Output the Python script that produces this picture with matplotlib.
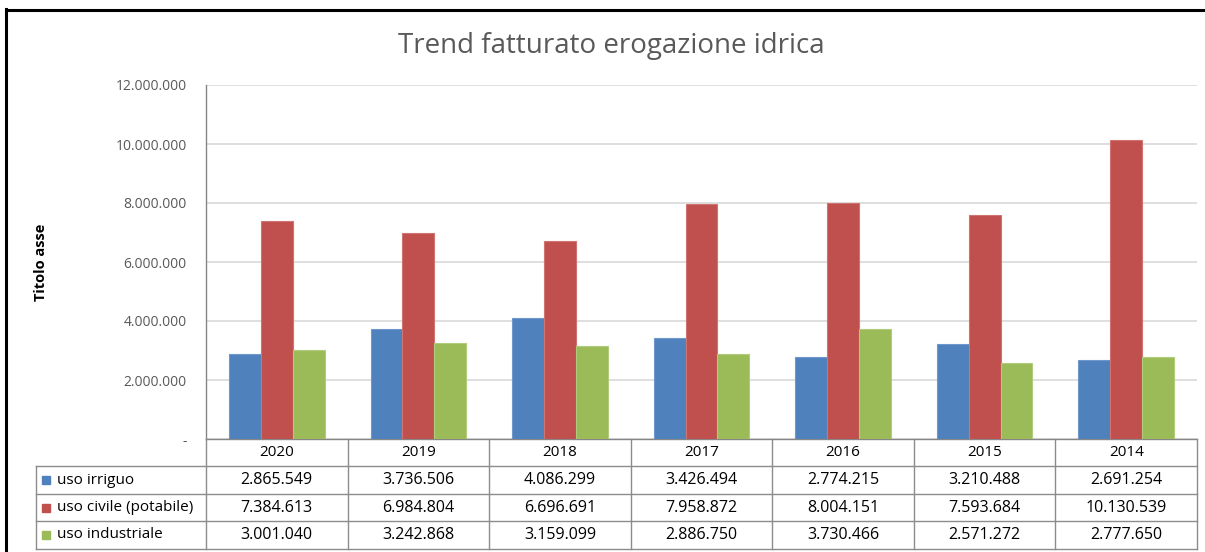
import numpy as np
import matplotlib
matplotlib.use("Agg")
import matplotlib.pyplot as plt
from matplotlib.transforms import blended_transform_factory
from matplotlib.lines import Line2D
from matplotlib.patches import Rectangle

plt.rcParams['font.family'] = ['Open Sans', 'DejaVu Sans']

years = ["2020", "2019", "2018", "2017", "2016", "2015", "2014"]
series_names = ["uso irriguo", "uso civile (potabile)", "uso industriale"]
irriguo = [2865549, 3736506, 4086299, 3426494, 2774215, 3210488, 2691254]
civile = [7384613, 6984804, 6696691, 7958872, 8004151, 7593684, 10130539]
industriale = [3001040, 3242868, 3159099, 2886750, 3730466, 2571272, 2777650]
colors = ["#4F81BD", "#C0504D", "#9BBB59"]
edges = ["#6f97cb", "#cf7471", "#b0cb7b"]
yticks = [0, 2000000, 4000000, 6000000, 8000000, 10000000, 12000000]

W, H = 1205, 552

def fx(x):
    return x / W

def fy(y):
    return 1 - y / H

def fmt(v):
    if v == 0:
        return "-"
    return f"{v:,}".replace(",", ".")

fig = plt.figure(figsize=(W / 100, H / 100), dpi=100)
ax = fig.add_axes([fx(206), fy(439), fx(1197 - 206), (439 - 85) / H])

x = np.arange(len(years))
bw = 0.225
data = [irriguo, civile, industriale]
for k, vals in enumerate(data):
    ax.bar(x + (k - 1) * bw, vals, bw, color=colors[k], edgecolor=edges[k],
           linewidth=0.8, zorder=3)

ax.set_xlim(-0.5, len(years) - 0.5)
ax.set_ylim(0, 12000000)
ax.set_yticks(yticks)
ax.set_yticklabels([fmt(v) for v in yticks])
ax.set_xticks([])
ax.tick_params(axis='y', length=0, pad=14, labelsize=10, labelcolor="#595959")
ax.grid(axis='y', color="#d9d9d9", linewidth=1.2, zorder=0)
for s in ["top", "right"]:
    ax.spines[s].set_visible(False)
ax.spines["left"].set_color("#868686")
ax.spines["bottom"].set_color("#868686")
ax.spines["left"].set_linewidth(1.0)
ax.spines["bottom"].set_linewidth(1.0)

ax.set_ylabel("Titolo asse", fontsize=10.5, fontweight="bold")
ax.yaxis.set_label_coords((48 - 206) / (1197 - 206), 0.5)

fig.text(fx(611), fy(46), "Trend fatturato erogazione idrica", fontsize=20,
         color="#595959", ha="center", va="center")

# data table under the axis
tr = blended_transform_factory(ax.transData, fig.transFigure)
line_c = "#8c8c8c"
row_edges = [439, 466, 494, 521, 549]
for i in range(len(years) + 1):
    fig.add_artist(Line2D([i - 0.5, i - 0.5], [fy(439), fy(549)], transform=tr,
                          color=line_c, lw=1.0))
for j, yy in enumerate(row_edges[1:]):
    fig.add_artist(Line2D([fx(36), fx(1197)], [fy(yy), fy(yy)],
                          transform=fig.transFigure, color=line_c, lw=1.0))
fig.add_artist(Line2D([fx(36), fx(36)], [fy(466), fy(549)],
                      transform=fig.transFigure, color=line_c, lw=1.0))

for i, yr in enumerate(years):
    fig.text(i, fy((439 + 466) / 2), yr, transform=tr, ha="center", va="center",
             fontsize=11)
for k, vals in enumerate(data):
    yc = fy((row_edges[k + 1] + row_edges[k + 2]) / 2)
    for i, v in enumerate(vals):
        fig.text(i, yc, fmt(v), transform=tr, ha="center", va="center", fontsize=11.5)
    fig.add_artist(Rectangle((fx(42), yc - 4 / H), 8 / W, 8 / H,
                             transform=fig.transFigure, color=colors[k]))
    fig.text(fx(57), yc, series_names[k], ha="left", va="center", fontsize=11)

# outer border
fig.add_artist(Line2D([fx(6), fx(W)], [fy(10), fy(10)], transform=fig.transFigure,
                      color="black", lw=2.2))
fig.add_artist(Line2D([fx(6), fx(6)], [fy(9), fy(H)], transform=fig.transFigure,
                      color="black", lw=2.2))

fig.savefig("out.png", dpi=100)
